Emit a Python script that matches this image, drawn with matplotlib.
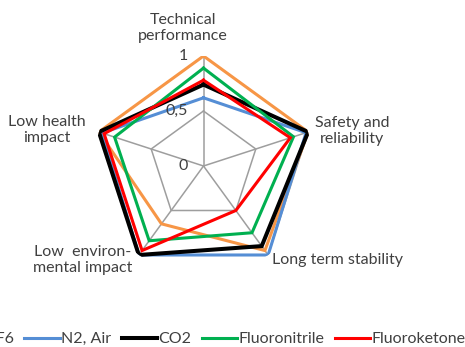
import numpy as np
import matplotlib
matplotlib.use('Agg')
import matplotlib.pyplot as plt

#%% Scores per criterion (0..1) for each insulating gas
criteria = ['Technical\nperformance', 'Safety and\nreliability', 'Long term stability',
            'Low  environ-\nmental impact', 'Low health\nimpact']
gases = ['SF6', 'N2, Air', 'CO2', 'Fluoronitrile', 'Fluoroketone']
sf6 = [1.0, 1.0, 0.95, 0.65, 1.0]
n2_air = [0.62, 0.98, 1.0, 1.0, 0.97]
co2 = [0.74, 1.0, 0.9, 1.0, 1.0]
fluoronitrile = [0.89, 0.86, 0.75, 0.84, 0.85]
fluoroketone = [0.78, 0.83, 0.5, 0.95, 0.95]
r_ticks = [0, 0.5, 1]
r_tick_labels = ['0', '0,5', '1']

colors = ['#F79646', '#558ED5', '#000000', '#00B050', '#FF0000']
widths = [2.2, 2.2, 2.9, 2.2, 2.2]

plt.rcParams['font.family'] = ['Lato', 'DejaVu Sans']

fig = plt.figure(figsize=(4.65, 3.47), dpi=100)
cx, cy, R = 203.5 / 465, 1 - 166 / 347, 110
ax = fig.add_axes([cx - R / 465, cy - R / 347, 2 * R / 465, 2 * R / 347], projection='polar')
ax.set_theta_offset(np.pi / 2)
ax.set_theta_direction(-1)
ax.set_ylim(0, 1)
ax.axis('off')

angles = np.linspace(0, 2 * np.pi, len(criteria), endpoint=False)
closed = np.append(angles, angles[0])

# pentagon grid and spokes
for r in r_ticks[1:]:
    ax.plot(closed, [r] * len(closed), color='#9E9E9E', lw=1.1, zorder=1)
for a in angles:
    ax.plot([a, a], [0, 1], color='#9E9E9E', lw=1.1, zorder=1)

series = [sf6, n2_air, co2, fluoronitrile, fluoroketone]
for i, vals in enumerate(series):
    ax.plot(closed, vals + vals[:1], color=colors[i], lw=widths[i],
            label=gases[i], zorder=2 + i, solid_joinstyle='miter')

# radial tick labels along the top spoke
for r, lab in zip(r_ticks, r_tick_labels):
    ax.annotate(lab, xy=(0, r), xytext=(-16, 0), textcoords='offset pixels',
                ha='right', va='center', fontsize=11.5, color='#404040')

# category labels
label_pos = [(183, 28), (352, 131), (337, 260), (83, 260), (47, 130)]
for name, (x, y) in zip(criteria, label_pos):
    fig.text(x / 465, 1 - y / 347, name, ha='center', va='center', fontsize=11.5,
             color='#404040', linespacing=1.2)

fig.legend(loc='center', bbox_to_anchor=(0.447, 1 - 339 / 347), ncol=5, frameon=False,
           fontsize=11.5, handlelength=2.2, columnspacing=0.65, handletextpad=0.1,
           labelcolor='#404040')

fig.savefig('out.png', dpi=100)
